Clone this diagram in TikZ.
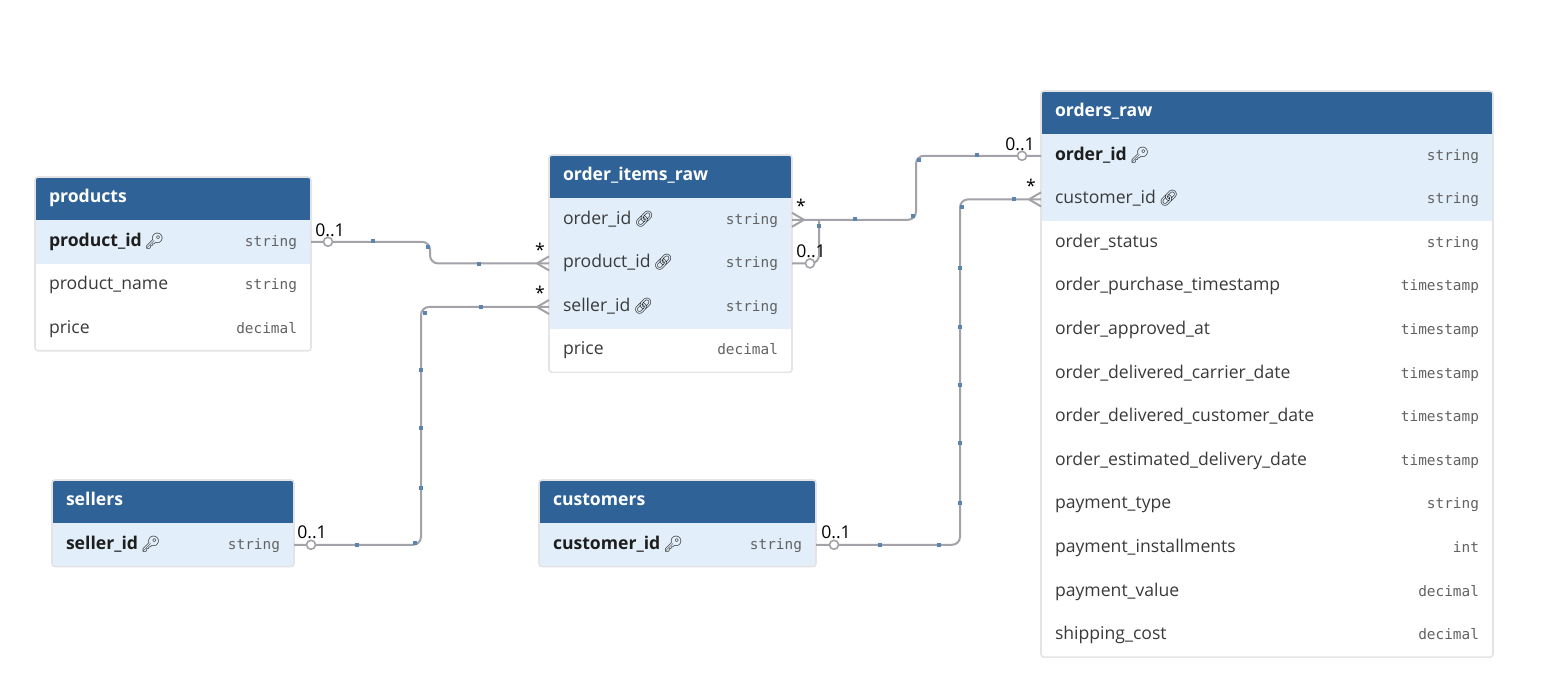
\documentclass[tikz,border=0pt]{standalone}
\usepackage{fontspec}
\setsansfont{Open Sans}
\setmonofont{DejaVu Sans Mono}
\newfontfamily\iconfont{Noto Emoji}
\usepackage{xcolor}
\usepackage{tikz}
\usetikzlibrary{calc}
\definecolor{hdrblue}{HTML}{2F6397}
\definecolor{rowblue}{HTML}{E2EFFB}
\definecolor{linegray}{HTML}{A2A2A8}
\definecolor{dotblue}{HTML}{5B84AE}
\definecolor{framegray}{HTML}{E4E4E6}
\definecolor{fieldcol}{HTML}{3A3A3A}
\definecolor{pkcol}{HTML}{1E1E1E}
\definecolor{typecol}{HTML}{626262}
\newcommand{\erfont}{\sffamily\fontsize{8.8}{10}\selectfont}
\newcommand{\ertype}[1]{{\color{typecol}\ttfamily\fontsize{7.2}{8}\selectfont #1}}
\newcommand{\pkicon}{\,{\iconfont\fontsize{7.8}{8}\selectfont\char"1F511}}
\newcommand{\fkicon}{\,{\iconfont\fontsize{7.8}{8}\selectfont\char"1F517}}
\newcommand{\pkfield}[1]{{\color{pkcol}\bfseries #1}{\color{pkcol}\pkicon}}
\newcommand{\fkfield}[1]{#1{\color{pkcol}\fkicon}}
\tikzset{
  erhead/.style={fill=hdrblue, text=white, font=\erfont\bfseries, anchor=north west, outer sep=0pt,
    minimum height=21.5pt, inner xsep=7pt, inner ysep=0pt, text height=6.5pt, text depth=2pt},
  errow/.style={fill=white, text=fieldcol, font=\erfont, anchor=north west, outer sep=0pt,
    minimum height=21.8pt, inner xsep=7pt, inner ysep=0pt, text height=6.5pt, text depth=2.2pt},
  erkey/.style={errow, fill=rowblue},
  erframe/.style={draw=framegray, line width=0.8pt, rounded corners=1.5pt},
  rel/.style={draw=linegray, line width=1pt},
  relpath/.style={rel, rounded corners=4pt},
  onecirc/.style={circle, draw=linegray, fill=white, line width=0.8pt, inner sep=0pt, minimum size=4.5pt},
  card/.style={font=\erfont, text=black, inner sep=0pt},
  handle/.style={fill=dotblue},
}
\newcommand{\erhead}[5]{
\pgfmathsetlengthmacro\erw{#4*0.5pt}
\pgfmathsetlengthmacro\ertw{(#4-28)*0.5pt}
\node[erhead, minimum width=\erw, text width=\ertw] (#1) at (#2, #3) {#5};
}
\newcommand{\errow}[6]{
\pgfmathsetlengthmacro\erw{#4*0.5pt}
\pgfmathsetlengthmacro\ertw{(#4-28)*0.5pt}
\node[#1, minimum width=\erw, text width=\ertw] (#2) at (#3.south west) {#5\hfill\ertype{#6}};
}
\newcommand{\erbox}[2]{
\draw[erframe] (#1.north west) rectangle (#2.south east);
}
\newcommand{\crowin}[2]{
\draw[rel] ($(#1)+({-12*(#2)}, 0)$) -- ($(#1)+(0, -7)$);
\draw[rel] ($(#1)+({-12*(#2)}, 0)$) -- ($(#1)+(0, 7)$);
}
\begin{document}
\begin{tikzpicture}[x=0.5pt, y=-0.5pt]
\useasboundingbox (0, 0) rectangle (1544, 694);
% products
\erhead{prod}{35}{177}{276}{products}
\errow{erkey}{prod-pid}{prod}{276}{\pkfield{product\_id}}{string}
\errow{errow}{prod-name}{prod-pid}{276}{product\_name}{string}
\errow{errow}{prod-price}{prod-name}{276}{price}{decimal}
\erbox{prod}{prod-price}
% order_items_raw
\erhead{items}{549}{155}{243}{order\_items\_raw}
\errow{erkey}{items-oid}{items}{243}{\fkfield{order\_id}}{string}
\errow{erkey}{items-pid}{items-oid}{243}{\fkfield{product\_id}}{string}
\errow{erkey}{items-sid}{items-pid}{243}{\fkfield{seller\_id}}{string}
\errow{errow}{items-price}{items-sid}{243}{price}{decimal}
\erbox{items}{items-price}
% orders_raw
\erhead{orders}{1041}{91}{452}{orders\_raw}
\errow{erkey}{orders-oid}{orders}{452}{\pkfield{order\_id}}{string}
\errow{erkey}{orders-cid}{orders-oid}{452}{\fkfield{customer\_id}}{string}
\errow{errow}{orders-status}{orders-cid}{452}{order\_status}{string}
\errow{errow}{orders-purchase}{orders-status}{452}{order\_purchase\_timestamp}{timestamp}
\errow{errow}{orders-approved}{orders-purchase}{452}{order\_approved\_at}{timestamp}
\errow{errow}{orders-carrier}{orders-approved}{452}{order\_delivered\_carrier\_date}{timestamp}
\errow{errow}{orders-delivered}{orders-carrier}{452}{order\_delivered\_customer\_date}{timestamp}
\errow{errow}{orders-estimated}{orders-delivered}{452}{order\_estimated\_delivery\_date}{timestamp}
\errow{errow}{orders-ptype}{orders-estimated}{452}{payment\_type}{string}
\errow{errow}{orders-pinst}{orders-ptype}{452}{payment\_installments}{int}
\errow{errow}{orders-pvalue}{orders-pinst}{452}{payment\_value}{decimal}
\errow{errow}{orders-ship}{orders-pvalue}{452}{shipping\_cost}{decimal}
\erbox{orders}{orders-ship}
% sellers
\erhead{sellers}{52}{480}{242}{sellers}
\errow{erkey}{sellers-sid}{sellers}{242}{\pkfield{seller\_id}}{string}
\erbox{sellers}{sellers-sid}
% customers
\erhead{cust}{539}{480}{277}{customers}
\errow{erkey}{cust-cid}{cust}{277}{\pkfield{customer\_id}}{string}
\erbox{cust}{cust-cid}
% relations
\coordinate (bend-prod) at (430, 0);
\coordinate (bend-sell) at (421, 0);
\coordinate (bend-ord) at (916, 0);
\coordinate (bend-self) at (819, 0);
\coordinate (bend-cust) at (960, 0);
\draw[relpath] (prod-pid.east) -- (prod-pid.east -| bend-prod) -- (bend-prod |- items-pid.west) -- (items-pid.west);
\draw[relpath] (sellers-sid.east) -- (sellers-sid.east -| bend-sell) -- (bend-sell |- items-sid.west) -- (items-sid.west);
\draw[relpath] (items-oid.east) -- (items-oid.east -| bend-ord) -- (bend-ord |- orders-oid.west) -- (orders-oid.west);
\draw[relpath] (items-pid.east) -- (items-pid.east -| bend-self) -- (bend-self |- items-oid.east);
\draw[relpath] (cust-cid.east) -- (cust-cid.east -| bend-cust) -- (bend-cust |- orders-cid.west) -- (orders-cid.west);
\crowin{items-pid.west}{1}
\crowin{items-sid.west}{1}
\crowin{items-oid.east}{-1}
\crowin{orders-cid.west}{1}
\foreach \x/\y in {373/241, 428/247, 479/264, 357/545, 415/543, 421/488, 421/428,
  421/370, 425/313, 481/307, 855/219, 913/216, 919/160, 977/155, 819/226,
  880/545, 939/545, 960/503, 960/443, 960/385, 960/327, 960/268, 962/207, 1014/199}
  \fill[handle] ({\x-2}, {\y-2}) rectangle ++(4, 4);
\node[onecirc] (prod-one) at ($(prod-pid.east)+(17, 0)$) {};
\node[onecirc] (sellers-one) at ($(sellers-sid.east)+(17, 0)$) {};
\node[onecirc] (orders-one) at ($(orders-oid.west)+(-19, 0)$) {};
\node[onecirc] (items-one) at ($(items-pid.east)+(18, 0)$) {};
\node[onecirc] (cust-one) at ($(cust-cid.east)+(18, 0)$) {};
% cardinalities
\node[card] (prod-card) at ($(prod-pid.east)+(19, -12)$) {0..1};
\node[card] (items-pid-card) at ($(items-pid.west)+(-9, -14)$) {*};
\node[card] (sellers-card) at ($(sellers-sid.east)+(18, -13)$) {0..1};
\node[card] (items-sid-card) at ($(items-sid.west)+(-9, -14)$) {*};
\node[card] (items-oid-card) at ($(items-oid.east)+(9, -14)$) {*};
\node[card] (orders-card) at ($(orders-oid.west)+(-21, -12)$) {0..1};
\node[card] (items-one-card) at ($(items-pid.east)+(19, -12)$) {0..1};
\node[card] (cust-card) at ($(cust-cid.east)+(20, -13)$) {0..1};
\node[card] (orders-cid-card) at ($(orders-cid.west)+(-10, -14)$) {*};
\end{tikzpicture}
\end{document}
